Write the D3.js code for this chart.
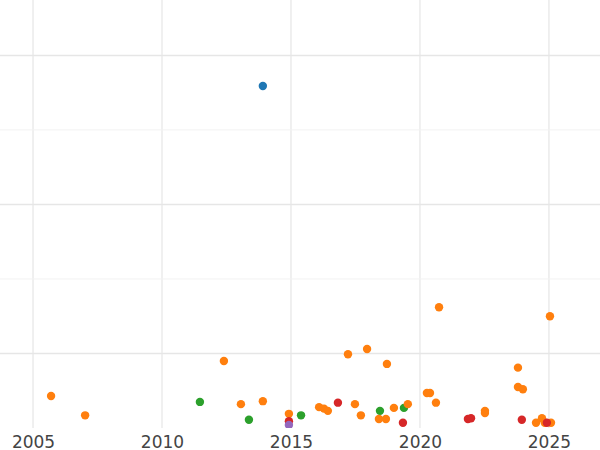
<!DOCTYPE html>
<html><head><meta charset="utf-8">
<script src="https://cdn.jsdelivr.net/npm/d3@7"></script>
<style>body{margin:0;background:#fff}</style></head>
<body><svg id="c" width="600" height="450"></svg>
<script>
const years = [2013.91,2005.70,2007.02,2011.47,2012.40,2013.06,2013.37,2013.91,2014.92,2014.92,2014.92,2015.39,2016.09,2016.28,2016.43,2016.82,2017.21,2017.48,2017.71,2017.95,2018.45,2018.41,2018.68,2018.72,2018.99,2019.38,2019.34,2019.53,2020.27,2020.39,2020.62,2020.74,2021.86,2021.98,2022.52,2022.52,2023.80,2023.80,2023.99,2023.95,2025.04,2024.73,2024.50,2024.84,2025.08,2024.92];
const values = [4.59,0.43,0.17,0.35,0.90,0.32,0.11,0.36,0.19,0.09,0.04,0.17,0.28,0.26,0.23,0.34,0.99,0.32,0.17,1.06,0.23,0.12,0.12,0.86,0.27,0.27,0.07,0.32,0.47,0.47,0.34,1.62,0.12,0.13,0.23,0.20,0.81,0.55,0.52,0.11,1.50,0.13,0.07,0.07,0.07,0.07];
const groups = ["blue","orange","orange","green","orange","orange","green","orange","orange","red","purple","green","orange","orange","orange","red","orange","orange","orange","orange","green","orange","orange","orange","orange","green","red","orange","orange","orange","orange","orange","red","red","orange","orange","orange","orange","orange","red","orange","orange","orange","orange","orange","red"];
const xTicks = [2005,2010,2015,2020,2025];
const yGrid = [1,2,3,4,5];
const color = d3.scaleOrdinal().domain(["blue","orange","green","red","purple"]).range(["#1f77b4","#ff7f0e","#2ca02c","#d62728","#9467bd"]);
const svg = d3.select("#c");
const x = d3.scaleLinear().domain([2003.72,2026.98]).range([0,600]);
const y = d3.scaleLinear().domain([0,5.73]).range([428,1]);
const g = svg.append("g");
g.selectAll(".vg").data(xTicks).join("line").attr("x1",d=>x(d)).attr("x2",d=>x(d)).attr("y1",0).attr("y2",428).attr("stroke","#ebebeb").attr("stroke-width",1.5);
g.selectAll(".hg").data(yGrid).join("line").attr("x1",0).attr("x2",600).attr("y1",d=>y(d)).attr("y2",d=>y(d)).attr("stroke",(d,i)=>i%2?"#f2f2f2":"#e6e6e6").attr("stroke-width",(d,i)=>i%2?1:1.5);
svg.append("defs").append("clipPath").attr("id","cp").append("rect").attr("width",600).attr("height",428);
const idx = d3.range(years.length);
svg.append("g").attr("clip-path","url(#cp)").selectAll("circle").data(idx).join("circle")
 .attr("cx",i=>x(years[i])).attr("cy",i=>y(values[i])).attr("r",4.2).attr("fill",i=>color(groups[i]));
const ax = svg.append("g").attr("transform","translate(0,428)").call(d3.axisBottom(x).tickValues(xTicks).tickFormat(d3.format("d")).tickSize(0).tickPadding(8));
ax.select(".domain").remove();
ax.selectAll("text").attr("font-family","DejaVu Sans").attr("font-size",17).attr("fill","#444");
</script></body></html>
